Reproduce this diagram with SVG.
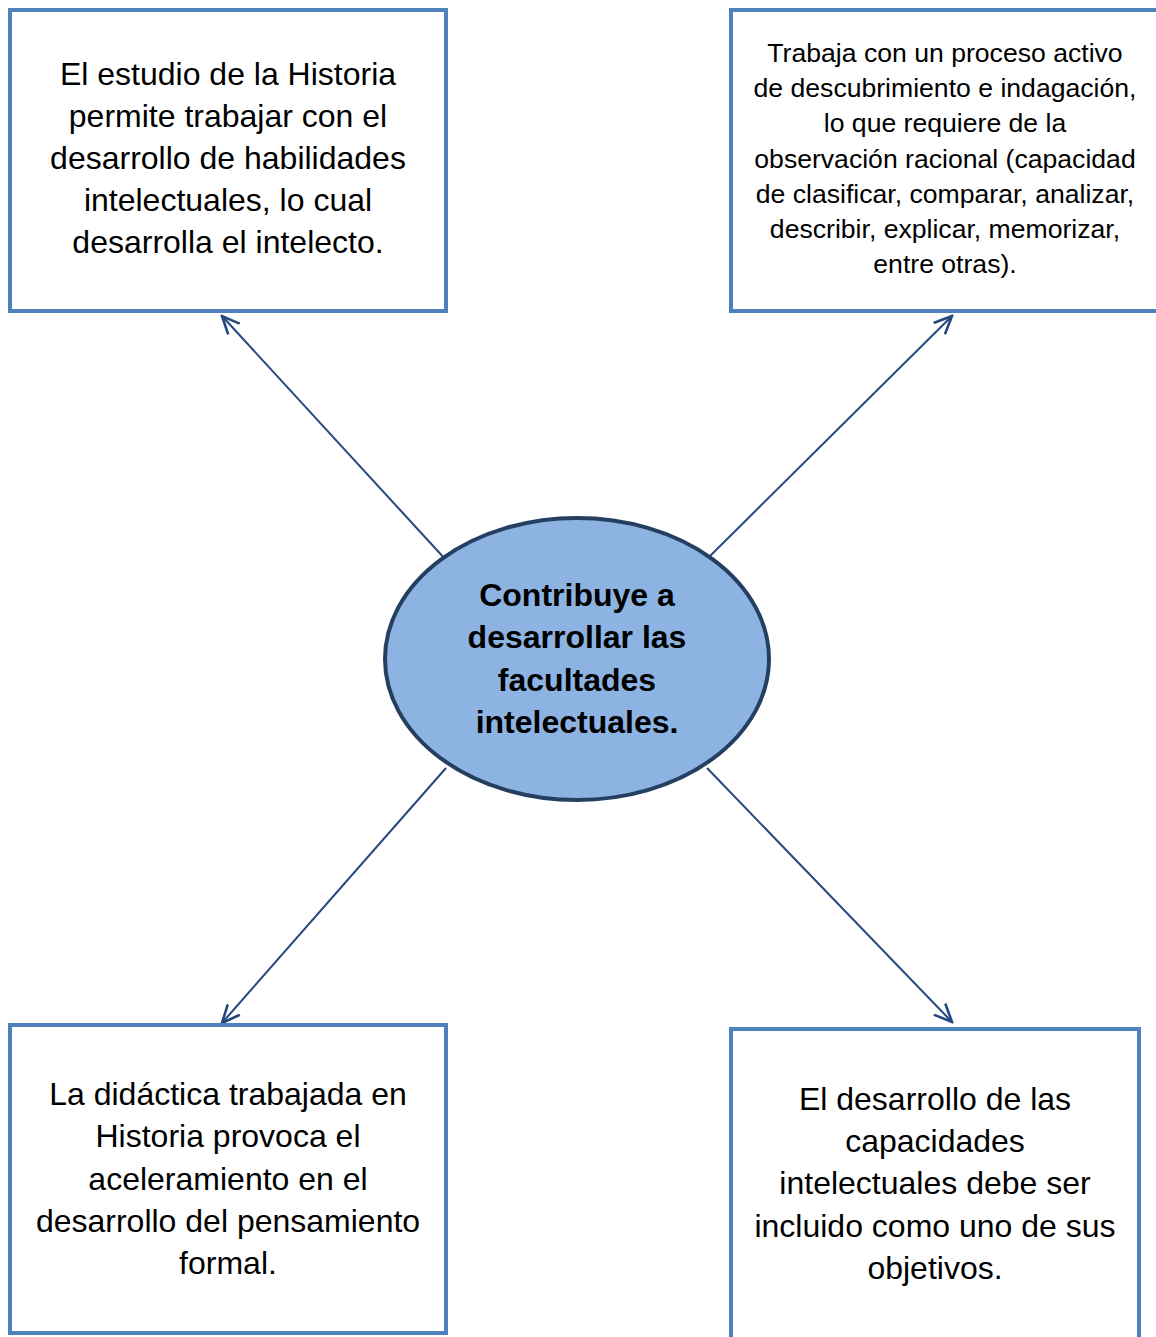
<svg xmlns="http://www.w3.org/2000/svg" width="1156" height="1337" viewBox="0 0 1156 1337">
<style>
.box{fill:#fff;stroke:#4F81BD;stroke-width:4}
.t{font-family:"Liberation Sans",Arial,sans-serif;font-size:32px;fill:#000;text-anchor:middle}
.s{font-family:"Liberation Sans",Arial,sans-serif;font-size:26.6px;fill:#000;text-anchor:middle}
.b{font-family:"Liberation Sans",Arial,sans-serif;font-size:32px;font-weight:bold;fill:#000;text-anchor:middle}
.c{stroke:#24477E;stroke-width:2;fill:none;marker-end:url(#ah)}
</style>
<defs>
<marker id="ah" viewBox="0 0 20 20" refX="18" refY="10" markerWidth="20" markerHeight="20" markerUnits="userSpaceOnUse" orient="auto">
<path d="M0,2 L18,10 L0,18" fill="none" stroke="#24477E" stroke-width="2.6"/>
</marker>
</defs>
<rect width="1156" height="1337" fill="#fff"/>
<g id="connectors">
<line class="c" x1="446" y1="560" x2="222" y2="316"/>
<line class="c" x1="708" y1="558" x2="952" y2="316"/>
<line class="c" x1="446" y1="768" x2="222" y2="1023"/>
<line class="c" x1="707" y1="768" x2="952" y2="1022"/>
</g>
<g id="center">
<ellipse cx="577" cy="659" rx="192" ry="141" fill="#8DB3E2" stroke="#243F60" stroke-width="4"/>
<text class="b" x="577" y="606">Contribuye a</text>
<text class="b" x="577" y="648">desarrollar las</text>
<text class="b" x="577" y="691">facultades</text>
<text class="b" x="577" y="733">intelectuales.</text>
</g>
<g id="topleft">
<rect class="box" x="10" y="10" width="436" height="301"/>
<text class="t" x="228" y="85">El estudio de la Historia</text>
<text class="t" x="228" y="127">permite trabajar con el</text>
<text class="t" x="228" y="169">desarrollo de habilidades</text>
<text class="t" x="228" y="211">intelectuales, lo cual</text>
<text class="t" x="228" y="253">desarrolla el intelecto.</text>
</g>
<g id="topright">
<rect class="box" x="731" y="10" width="440" height="301"/>
<text class="s" x="945" y="62">Trabaja con un proceso activo</text>
<text class="s" x="945" y="97">de descubrimiento e indagación,</text>
<text class="s" x="945" y="132">lo que requiere de la</text>
<text class="s" x="945" y="168">observación racional (capacidad</text>
<text class="s" x="945" y="203">de clasificar, comparar, analizar,</text>
<text class="s" x="945" y="238">describir, explicar, memorizar,</text>
<text class="s" x="945" y="273">entre otras).</text>
</g>
<g id="bottomleft">
<rect class="box" x="10" y="1025" width="436" height="308"/>
<text class="t" x="228" y="1105">La didáctica trabajada en</text>
<text class="t" x="228" y="1147">Historia provoca el</text>
<text class="t" x="228" y="1190">aceleramiento en el</text>
<text class="t" x="228" y="1232">desarrollo del pensamiento</text>
<text class="t" x="228" y="1274">formal.</text>
</g>
<g id="bottomright">
<rect class="box" x="731" y="1029" width="408" height="320"/>
<text class="t" x="935" y="1110">El desarrollo de las</text>
<text class="t" x="935" y="1152">capacidades</text>
<text class="t" x="935" y="1194">intelectuales debe ser</text>
<text class="t" x="935" y="1237">incluido como uno de sus</text>
<text class="t" x="935" y="1279">objetivos.</text>
</g>
</svg>
